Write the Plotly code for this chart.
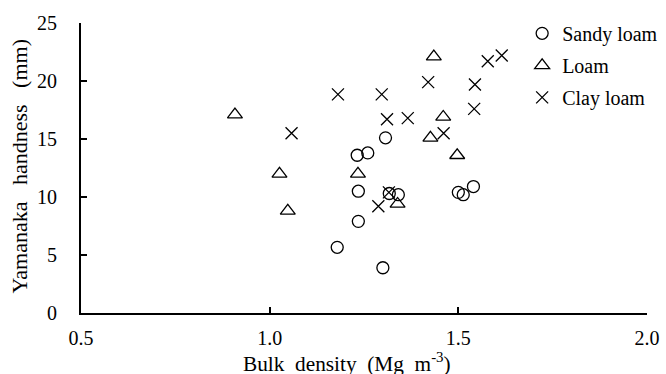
import plotly.graph_objects as go

# Sandy loam
sandy_x = [1.179, 1.30, 1.235, 1.235, 1.317, 1.341, 1.50, 1.513, 1.54, 1.232, 1.26, 1.307]
sandy_y = [5.66, 3.9, 7.9, 10.5, 10.3, 10.2, 10.4, 10.2, 10.9, 13.6, 13.8, 15.1]

# Loam
loam_x = [0.908, 1.026, 1.048, 1.234, 1.339, 1.426, 1.435, 1.46, 1.497]
loam_y = [17.1, 12.0, 8.8, 12.0, 9.4, 15.1, 22.1, 16.9, 13.6]

# Clay loam
clay_x = [1.058, 1.181, 1.297, 1.311, 1.366, 1.42, 1.461, 1.544, 1.542, 1.578, 1.615, 1.288, 1.316]
clay_y = [15.5, 18.85, 18.85, 16.7, 16.8, 19.9, 15.5, 19.7, 17.6, 21.7, 22.2, 9.2, 10.4]

x_ticks = [0.5, 1.0, 1.5, 2.0]
x_ticklabels = ["0.5", "1.0", "1.5", "2.0"]
y_ticks = [0, 5, 10, 15, 20, 25]

FONT = "Times New Roman, Liberation Serif, serif"
NB = "\u00a0"

fig = go.Figure()
fig.add_trace(go.Scatter(x=sandy_x, y=sandy_y, mode="markers", name="Sandy loam",
                         legendgroup="a",
                         marker=dict(symbol="circle-open", size=12, color="black",
                                     line=dict(width=1.3, color="black"))))
fig.add_trace(go.Scatter(x=loam_x, y=loam_y, mode="markers", name="Loam",
                         legendgroup="b",
                         marker=dict(symbol="triangle-up-open", size=13, color="black",
                                     line=dict(width=1.3, color="black"))))
fig.add_trace(go.Scatter(x=clay_x, y=clay_y, mode="markers", name="Clay loam",
                         legendgroup="c",
                         marker=dict(symbol="x-thin-open", size=12, color="black",
                                     line=dict(width=1.3, color="black"))))

fig.update_layout(
    width=666, height=374,
    margin=dict(l=81, r=19, t=23, b=61, autoexpand=False),
    paper_bgcolor="white", plot_bgcolor="white",
    font=dict(family=FONT, size=20, color="black"),
    showlegend=True,
    legend=dict(xref="container", yref="container", x=0.784, y=0.963,
                xanchor="left", yanchor="top",
                bgcolor="rgba(0,0,0,0)", font=dict(size=20, family=FONT),
                tracegroupgap=3, traceorder="grouped"),
    xaxis=dict(range=[0.5, 2.0], tickvals=x_ticks, ticktext=x_ticklabels,
               ticks="inside", ticklen=6, tickwidth=1.5, tickcolor="black",
               showline=True, linecolor="black", linewidth=2,
               showgrid=False, zeroline=False, ticklabelstandoff=6,
               automargin=False),
    yaxis=dict(range=[0, 25], tickvals=y_ticks,
               ticks="inside", ticklen=6, tickwidth=1.5, tickcolor="black",
               showline=True, linecolor="black", linewidth=2,
               showgrid=False, zeroline=False, ticklabelstandoff=18,
               automargin=False),
    annotations=[
        dict(text=f"Bulk{NB} density{NB} (Mg{NB} m<sup>-3</sup>)", xref="paper", yref="paper",
             x=0.47, y=-0.169, xanchor="center", yanchor="middle", showarrow=False,
             font=dict(size=21.3, family=FONT)),
        dict(text=f"Yamanaka{NB}{NB} handness{NB}{NB} (mm)", xref="paper", yref="paper",
             x=-0.107, y=0.507, xanchor="center", yanchor="middle", showarrow=False,
             textangle=-90, font=dict(size=22, family=FONT)),
    ],
)

fig.write_html("out.html", config={"displayModeBar": False},
               post_script="document.body.style.margin='0';")
